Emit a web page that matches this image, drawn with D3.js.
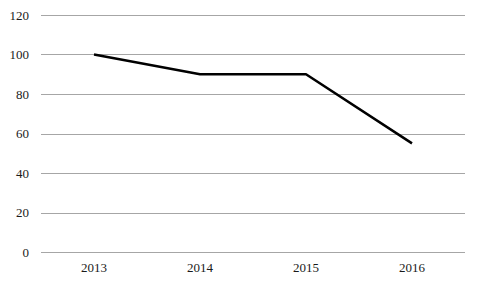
<!DOCTYPE html>
<html>
<head>
<meta charset="utf-8">
<script src="https://cdn.jsdelivr.net/npm/d3@7"></script>
<style>
  body { margin: 0; background: #fff; }
  text { font-family: "Liberation Serif", serif; font-size: 13px; fill: #1a1a1a; }
</style>
</head>
<body>
<div id="chart"></div>
<script>
const width = 480,
  height = 288,
  margin = { top: 15, bottom: 36, left: 41, right: 15 };

// data
const years = ["2013", "2014", "2015", "2016"];
const values = [100, 90, 90, 55];
const yTicks = [0, 20, 40, 60, 80, 100, 120];

const data = years.map((y, i) => ({ year: y, value: values[i] }));

const svg = d3.select("#chart")
  .append("svg")
  .attr("width", width)
  .attr("height", height);

const xScale = d3.scaleBand()
  .domain(years)
  .range([margin.left, width - margin.right]);

const yScale = d3.scaleLinear()
  .domain([0, 120])
  .range([height - margin.bottom, margin.top]);

// gridlines
svg.append("g")
  .selectAll("line")
  .data(yTicks)
  .join("line")
  .attr("x1", margin.left)
  .attr("x2", width - margin.right)
  .attr("y1", d => Math.round(yScale(d)) + 0.5)
  .attr("y2", d => Math.round(yScale(d)) + 0.5)
  .attr("stroke", "#a6a6a6")
  .attr("stroke-width", 1);

// y labels
const yAxis = d3.axisLeft(yScale).tickValues(yTicks).tickSize(0).tickPadding(12);
svg.append("g")
  .attr("transform", `translate(${margin.left},0)`)
  .call(yAxis)
  .call(g => g.select(".domain").remove());

// x labels
const xAxis = d3.axisBottom(xScale).tickSize(0).tickPadding(11);
svg.append("g")
  .attr("transform", `translate(0,${height - margin.bottom})`)
  .call(xAxis)
  .call(g => g.select(".domain").remove());

svg.selectAll(".tick text")
  .style("font-family", "'Liberation Serif', serif")
  .style("font-size", "13px")
  .attr("fill", "#1a1a1a");

// line
const line = d3.line()
  .x(d => xScale(d.year) + xScale.bandwidth() / 2)
  .y(d => yScale(d.value));

svg.append("path")
  .datum(data)
  .attr("d", line)
  .attr("fill", "none")
  .attr("stroke", "#000")
  .attr("stroke-width", 2.5)
  .attr("stroke-linejoin", "round");
</script>
</body>
</html>
